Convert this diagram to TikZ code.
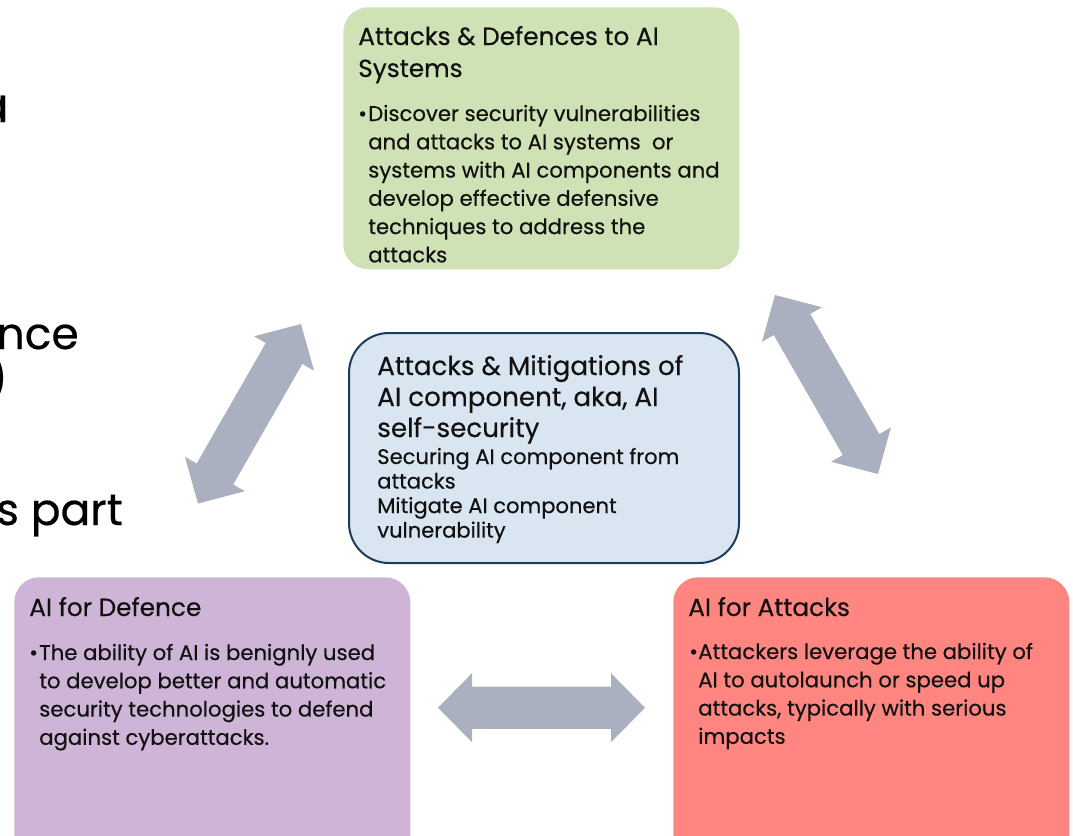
\documentclass[tikz,border=0pt]{standalone}
\usepackage{fontspec}
\setmainfont{Poppins}[FakeBold=0.4]
\usetikzlibrary{calc}

\definecolor{boxgreen}{RGB}{207,226,181}
\definecolor{boxblue}{RGB}{217,230,241}
\definecolor{boxnavy}{RGB}{28,58,92}
\definecolor{boxpurple}{RGB}{206,180,214}
\definecolor{boxred}{RGB}{255,134,128}
\definecolor{arrowgrey}{RGB}{170,176,191}
\definecolor{ink}{RGB}{17,17,17}

% block arrow sizes: head length, head half width, shaft half width
\newcommand{\arrhead}{25.5pt}
\newcommand{\arrwing}{25.9pt}
\newcommand{\arrshaft}{15.8pt}
\newcommand{\bigarrow}[2]{%
  \fill[arrowgrey] (#1)
    -- ($(#1)!\arrhead!(#2)!\arrwing!90:(#2)$)
    -- ($(#1)!\arrhead!(#2)!\arrshaft!90:(#2)$)
    -- ($(#2)!\arrhead!(#1)!\arrshaft!-90:(#1)$)
    -- ($(#2)!\arrhead!(#1)!\arrwing!-90:(#1)$)
    -- (#2)
    -- ($(#2)!\arrhead!(#1)!\arrwing!90:(#1)$)
    -- ($(#2)!\arrhead!(#1)!\arrshaft!90:(#1)$)
    -- ($(#1)!\arrhead!(#2)!\arrshaft!-90:(#2)$)
    -- ($(#1)!\arrhead!(#2)!\arrwing!-90:(#2)$)
    -- cycle;}

\tikzset{
  area/.style={anchor=north west, rounded corners=18.75pt, minimum width=297pt, inner sep=0pt},
  headline/.style={anchor=base west, inner sep=0pt, text=ink, font=\fontsize{18.6pt}{24pt}\selectfont},
  bodytext/.style={anchor=base west, inner sep=0pt, text=ink, font=\fontsize{15.9pt}{21.2pt}\selectfont},
  bigtext/.style={anchor=base east, inner sep=0pt, font=\fontsize{33pt}{33pt}\selectfont},
}

\begin{document}
\begin{tikzpicture}[x=0.75pt, y=-0.75pt]
  \useasboundingbox (0,0) rectangle (1073,835);

  % words running in from the left
  \node[bigtext, font=\fontsize{36pt}{36pt}\selectfont] (wa) at (9,122) {a};
  \node[bigtext] (wnce) at (79,349) {nce};
  \node[bigtext] (wpar) at (8,394) {)};
  \node[bigtext] (wpart) at (123,525) {s part};

  % the four areas
  \node[area, fill=boxgreen, minimum height=196.5pt] (sys) at (343,7) {};
  \node[area, fill=boxblue, draw=boxnavy, line width=1.5pt, rounded corners=30pt,
        minimum width=292.5pt, minimum height=172.5pt] (self) at (348,332) {};
  \node[area, fill=boxpurple, minimum height=225pt] (def) at (14,577) {};
  \node[area, fill=boxred, minimum height=225pt] (att) at (673,577) {};

  % texts
  \node[headline] (systitle) at (358,45) {\parbox[t]{300pt}{Attacks \& Defences to AI\\Systems}};
  \node[bodytext] (sysdot) at (358,121) {•};
  \node[bodytext] (systext) at (368,121) {\parbox[t]{320pt}{Discover security vulnerabilities\\
    and attacks to AI systems~ or\\systems with AI components and\\develop effective defensive\\
    techniques to address the\\attacks}};

  \node[headline, font=\fontsize{19.6pt}{23.25pt}\selectfont] (selftitle) at (377,375)
    {\parbox[t]{300pt}{Attacks \& Mitigations of\\AI component, aka, AI\\self-security}};
  \node[bodytext, font=\fontsize{15.8pt}{18.4pt}\selectfont] (selftext) at (377,464)
    {\parbox[t]{300pt}{Securing AI component from\\attacks\\Mitigate AI component\\vulnerability}};

  \node[headline] (deftitle) at (29,616) {AI for Defence};
  \node[bodytext] (defdot) at (29,660) {•};
  \node[bodytext] (deftext) at (39,660) {\parbox[t]{320pt}{The ability of AI is benignly used\\
    to develop better and automatic\\security technologies to defend\\against cyberattacks.}};

  \node[headline] (atttitle) at (688,616) {AI for Attacks};
  \node[bodytext] (attdot) at (689,659) {•};
  \node[bodytext] (atttext) at (698,659) {\parbox[t]{320pt}{Attackers leverage the ability of\\
    AI to autolaunch or speed up\\attacks, typically with serious\\impacts}};

  % two-way arrows between the areas
  \coordinate (ldlow) at (198,503.5);
  \coordinate (ldup) at (301,324);
  \coordinate (rdup) at (775,295);
  \coordinate (rdlow) at (878,474);
  \coordinate (hleft) at (438,707.7);
  \coordinate (hright) at (645,707.7);
  \bigarrow{ldlow}{ldup}
  \bigarrow{rdup}{rdlow}
  \bigarrow{hleft}{hright}
\end{tikzpicture}
\end{document}
